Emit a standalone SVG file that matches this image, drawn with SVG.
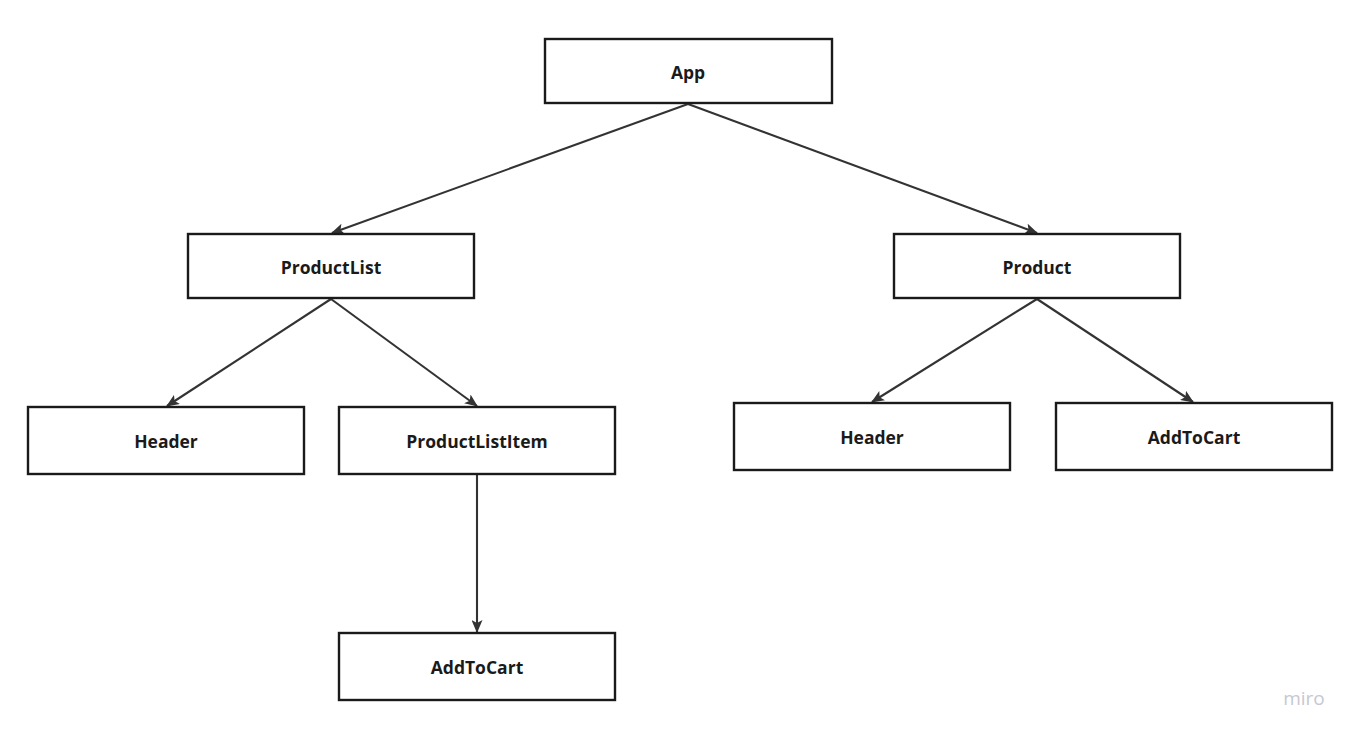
<svg xmlns="http://www.w3.org/2000/svg" width="1356" height="737" viewBox="0 0 1356 737">
<style>
.box{fill:#fff;stroke:#1a1a1a;stroke-width:2.4}
.lbl{font-family:"Open Sans","Noto Sans",sans-serif;font-weight:bold;font-size:17.5px;fill:#1a1a1a;text-anchor:middle;dominant-baseline:central}
.edge{stroke:#333;stroke-width:2.1;fill:none;marker-end:url(#ah)}
</style>
<defs>
<marker id="ah" viewBox="0 0 13 11" refX="12" refY="5.5" markerWidth="13" markerHeight="11" markerUnits="userSpaceOnUse" orient="auto">
<path d="M0,0 L13,5.5 L0,11 L3,5.5 Z" fill="#333"/>
</marker>
</defs>
<rect width="1356" height="737" fill="#fff"/>
<g id="connectors">
<line class="edge" x1="688" y1="104" x2="332" y2="233"/>
<line class="edge" x1="688" y1="104" x2="1037" y2="233"/>
<line class="edge" x1="331" y1="299" x2="167" y2="406"/>
<line class="edge" x1="331" y1="299" x2="477" y2="406"/>
<line class="edge" x1="477" y1="475" x2="477" y2="632"/>
<line class="edge" x1="1037" y1="299" x2="872" y2="402"/>
<line class="edge" x1="1037" y1="299" x2="1193" y2="402"/>
</g>
<g id="app"><rect class="box" x="545" y="39" width="287" height="64"/><text class="lbl" x="688" y="72">App</text></g>
<g id="productlist"><rect class="box" x="188" y="234" width="286" height="64"/><text class="lbl" x="331" y="267">ProductList</text></g>
<g id="product"><rect class="box" x="894" y="234" width="286" height="64"/><text class="lbl" x="1037" y="267">Product</text></g>
<g id="header1"><rect class="box" x="28" y="407" width="276" height="67"/><text class="lbl" x="166" y="441">Header</text></g>
<g id="productlistitem"><rect class="box" x="339" y="407" width="276" height="67"/><text class="lbl" x="477" y="441">ProductListItem</text></g>
<g id="addtocart1"><rect class="box" x="339" y="633" width="276" height="67"/><text class="lbl" x="477" y="667">AddToCart</text></g>
<g id="header2"><rect class="box" x="734" y="403" width="276" height="67"/><text class="lbl" x="872" y="437">Header</text></g>
<g id="addtocart2"><rect class="box" x="1056" y="403" width="276" height="67"/><text class="lbl" x="1194" y="437">AddToCart</text></g>
<text x="1304" y="698" font-family="Open Sans, sans-serif" font-size="19" fill="#c6c8d2" text-anchor="middle" dominant-baseline="central">miro</text>
</svg>
